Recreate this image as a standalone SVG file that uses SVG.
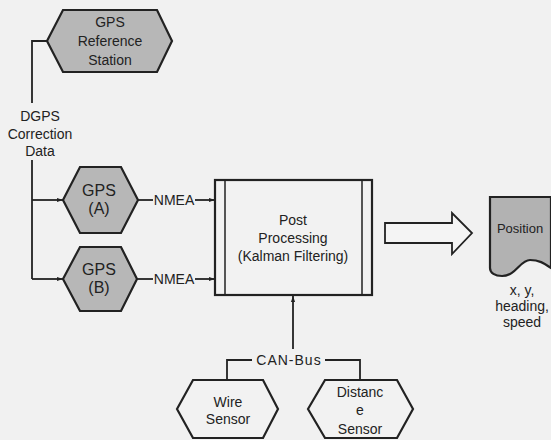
<svg xmlns="http://www.w3.org/2000/svg" width="551" height="440" viewBox="0 0 551 440">
<style>
text{font-family:"Liberation Sans",Arial,sans-serif;fill:#222;text-anchor:middle}
.t{font-size:14px}
.g{font-size:16px}
.hex{stroke:#222;stroke-width:2.2;stroke-linejoin:miter}
.gray{fill:#b7b7b7}
.white{fill:#f2f2f2}
.ln{fill:none;stroke:#222;stroke-width:1.8}
</style>
<defs>
<marker id="ah" viewBox="0 0 10 10" refX="10" refY="5" markerWidth="6" markerHeight="6" orient="auto" markerUnits="userSpaceOnUse">
<path d="M0,1.5 L10,5 L0,8.5 Z" fill="#222"/>
</marker>
</defs>
<rect width="551" height="440" fill="#f1f1f1"/>
<g id="connectors">
<path class="ln" d="M47,41 H32 V103"/>
<path class="ln" d="M32,160 V279"/>
<path class="ln" d="M32,200 H63" marker-end="url(#ah)"/>
<path class="ln" d="M32,279 H63" marker-end="url(#ah)"/>
<path class="ln" d="M138,200 H153"/>
<path class="ln" d="M195,200 H215" marker-end="url(#ah)"/>
<path class="ln" d="M137,279 H153"/>
<path class="ln" d="M195,279 H215" marker-end="url(#ah)"/>
<path class="ln" d="M293,349 V296" marker-end="url(#ah)"/>
<path class="ln" d="M252,360 H227 V380"/>
<path class="ln" d="M325,360 H360 V380"/>
<text class="t" x="40" y="121" font-size="14.5">DGPS</text>
<text class="t" x="40" y="139" font-size="14.5">Correction</text>
<text class="t" x="40" y="156" font-size="14.5">Data</text>
<text class="t" x="174" y="205" font-size="14.5">NMEA</text>
<text class="t" x="174" y="284" font-size="14.5">NMEA</text>
<text class="t" x="289" y="365" font-size="15" letter-spacing="1">CAN-Bus</text>
</g>
<g id="gps-reference-station">
<path class="hex gray" d="M47,41 L63,10 L157,10 L172,41 L157,72 L63,72 Z"/>
<text class="t" x="110" y="27">GPS</text>
<text class="t" x="110" y="46">Reference</text>
<text class="t" x="110" y="65">Station</text>
</g>
<g id="gps-a">
<path class="hex gray" d="M63,200 L80,167 L121,167 L138,200 L121,233 L80,233 Z"/>
<text class="g" x="99" y="196">GPS</text>
<text class="g" x="99" y="214">(A)</text>
</g>
<g id="gps-b">
<path class="hex gray" d="M63,279 L80,247 L121,247 L137,279 L121,311 L80,311 Z"/>
<text class="g" x="99" y="275">GPS</text>
<text class="g" x="99" y="293">(B)</text>
</g>
<g id="post-processing">
<rect x="215" y="180" width="157" height="115" fill="#f2f2f2" stroke="#222" stroke-width="2.2"/>
<line x1="225" y1="180" x2="225" y2="295" stroke="#222" stroke-width="1.5"/>
<line x1="362" y1="180" x2="362" y2="295" stroke="#222" stroke-width="1.5"/>
<text class="t" x="293" y="225">Post</text>
<text class="t" x="293" y="243">Processing</text>
<text class="t" x="293" y="261">(Kalman Filtering)</text>
</g>
<g id="output-arrow">
<path d="M385,223 H452 V213 L472,233 L452,254 V243 H385 Z" fill="#f4f4f4" stroke="#222" stroke-width="1.8" stroke-linejoin="miter"/>
</g>
<g id="position">
<path d="M490,197 H551 V268 C545,264 540,260 530,260 C520,260 516,276 502,276 C495,276 490,273 490,268 Z" fill="#b2b2b2" stroke="#222" stroke-width="2.2"/>
<text font-size="13" x="520" y="233">Position</text>
<text class="t" x="522" y="295">x, y,</text>
<text class="t" x="522" y="311">heading,</text>
<text class="t" x="522" y="327">speed</text>
</g>
<g id="wire-sensor">
<path class="hex white" d="M177,409 L193,380 L263,380 L278,409 L263,438 L193,438 Z"/>
<text class="t" x="228" y="407">Wire</text>
<text class="t" x="228" y="424">Sensor</text>
</g>
<g id="distance-sensor">
<path class="hex white" d="M308,409 L325,380 L397,380 L413,409 L397,438 L325,438 Z"/>
<text class="t" x="360" y="397">Distanc</text>
<text class="t" x="360" y="415">e</text>
<text class="t" x="360" y="434">Sensor</text>
</g>
</svg>
